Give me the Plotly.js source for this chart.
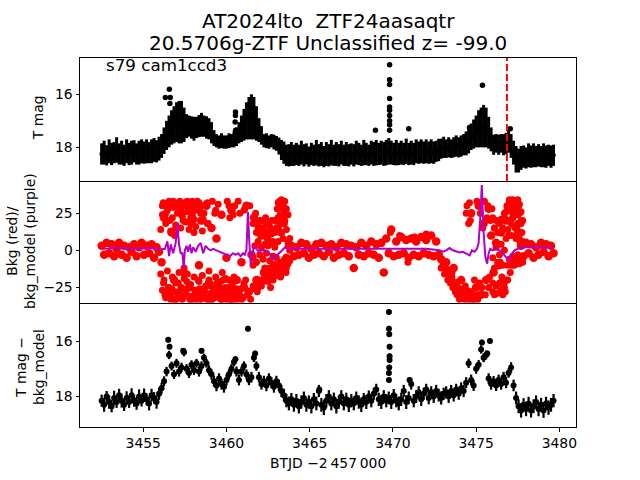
<!DOCTYPE html>
<html>
<head>
<meta charset="utf-8">
<script src="https://cdn.plot.ly/plotly-3.0.1.min.js"></script>
<style>html,body{margin:0;padding:0;background:#fff;}#chart{width:640px;height:480px;}</style>
</head>
<body>
<div id="chart"></div>
<script>
// ---- data ----
const btjd = [
3452.50,3452.65,3452.80,3452.95,3453.10,3453.25,3453.40,3453.55,3453.70,3453.85,
3454.00,3454.15,3454.30,3454.45,3454.60,3454.75,3454.90,3455.05,3455.20,3455.35,
3455.50,3455.65,3455.80,3455.95,3456.10,3456.25,3456.40,3456.55,3456.70,3456.85,
3457.00,3457.15,3457.30,3457.45,3457.60,3457.75,3457.90,3458.05,3458.20,3458.35,
3458.50,3458.65,3458.80,3458.95,3459.10,3459.25,3459.40,3459.55,3459.70,3459.85,
3460.00,3460.15,3460.30,3460.45,3460.60,3460.75,3460.90,3461.05,3461.20,3461.35,
3461.50,3461.65,3461.80,3461.95,3462.10,3462.25,3462.40,3462.55,3462.70,3462.85,
3463.00,3463.15,3463.30,3463.45,3463.60,3463.75,3463.90,3464.05,3464.20,3464.35,
3464.50,3464.65,3464.80,3464.95,3465.10,3465.25,3465.40,3465.55,3465.70,3465.85,
3466.00,3466.15,3466.30,3466.45,3466.60,3466.75,3466.90,3467.05,3467.20,3467.35,
3467.50,3467.65,3467.80,3467.95,3468.10,3468.25,3468.40,3468.55,3468.70,3468.85,
3469.00,3469.15,3469.30,3469.45,3469.60,3469.75,3469.90,3470.05,3470.20,3470.35,
3470.50,3470.65,3470.80,3470.95,3471.10,3471.25,3471.40,3471.55,3471.70,3471.85,
3472.00,3472.15,3472.30,3472.45,3472.60,3472.75,3472.90,3473.05,3473.20,3473.35,
3473.50,3473.65,3473.80,3473.95,3474.10,3474.25,3474.40,3474.55,3474.70,3474.85,
3475.00,3475.15,3475.30,3475.45,3475.60,3475.75,3475.90,3476.05,3476.20,3476.35,
3476.50,3476.65,3476.80,3476.95,3477.10,3477.25,3477.40,3477.55,3477.70,3477.85,
3478.00,3478.15,3478.30,3478.45,3478.60,3478.75,3478.90,3479.05,3479.20,3479.35,
3479.50,3479.65];

// panel 1: T mag and its error
const tmag = [
18.25,18.20,18.30,18.15,18.25,18.20,18.10,18.25,18.20,18.30,
18.15,18.25,18.20,18.15,18.25,18.20,18.15,18.20,18.15,18.20,
18.15,18.10,18.15,18.05,17.95,17.75,17.55,17.40,17.25,17.15,
17.05,17.05,17.05,17.15,17.20,17.20,17.25,17.30,17.25,17.20,
17.15,17.20,17.25,17.30,17.45,17.65,17.75,17.80,17.75,17.80,
17.80,17.75,17.75,17.70,17.60,17.45,17.30,17.15,17.00,16.90,
16.85,16.90,17.10,17.35,17.55,17.75,17.75,17.80,17.75,17.80,
17.85,17.95,18.10,18.20,18.30,18.30,18.25,18.30,18.25,18.30,
18.20,18.30,18.25,18.35,18.25,18.30,18.20,18.30,18.25,18.35,
18.25,18.30,18.20,18.30,18.25,18.30,18.20,18.30,18.25,18.30,
18.25,18.30,18.20,18.25,18.30,18.20,18.25,18.30,18.20,18.25,
18.20,18.25,18.20,18.25,18.20,18.15,18.20,18.25,18.20,18.25,
18.20,18.25,18.15,18.25,18.20,18.25,18.15,18.20,18.15,18.20,
18.15,18.20,18.15,18.20,18.15,18.10,18.05,18.00,18.05,18.00,
18.05,18.00,17.95,18.00,17.95,17.90,17.85,17.75,17.60,17.50,
17.40,17.30,17.25,17.20,17.25,17.45,17.70,17.90,17.85,17.90,
17.85,17.90,17.85,17.75,17.95,18.20,18.45,18.50,18.40,18.35,
18.40,18.30,18.35,18.30,18.35,18.30,18.35,18.30,18.35,18.30,
18.35,18.30];
const tmagErr = [
0.40,0.45,0.38,0.45,0.42,0.40,0.48,0.40,0.45,0.40,
0.45,0.42,0.45,0.42,0.40,0.45,0.45,0.42,0.45,0.40,
0.45,0.45,0.42,0.45,0.45,0.50,0.55,0.60,0.65,0.70,
0.75,0.80,0.80,0.65,0.45,0.40,0.42,0.45,0.40,0.42,
0.45,0.40,0.42,0.40,0.40,0.30,0.25,0.25,0.28,0.25,
0.25,0.28,0.25,0.30,0.35,0.40,0.50,0.60,0.70,0.80,
0.85,0.80,0.65,0.45,0.35,0.25,0.28,0.25,0.25,0.28,
0.28,0.32,0.38,0.42,0.40,0.42,0.45,0.40,0.42,0.40,
0.45,0.42,0.40,0.38,0.42,0.40,0.48,0.42,0.45,0.40,
0.45,0.42,0.48,0.40,0.45,0.42,0.45,0.40,0.45,0.42,
0.40,0.42,0.45,0.42,0.40,0.48,0.42,0.40,0.45,0.45,
0.48,0.42,0.45,0.45,0.48,0.50,0.45,0.42,0.48,0.42,
0.45,0.42,0.48,0.42,0.45,0.42,0.45,0.42,0.45,0.42,
0.45,0.42,0.45,0.42,0.40,0.42,0.38,0.40,0.35,0.38,
0.35,0.38,0.40,0.38,0.40,0.40,0.45,0.48,0.50,0.55,
0.60,0.70,0.75,0.80,0.75,0.60,0.45,0.38,0.35,0.38,
0.35,0.40,0.40,0.45,0.45,0.45,0.50,0.45,0.45,0.42,
0.40,0.45,0.42,0.45,0.40,0.42,0.40,0.45,0.42,0.40,
0.42,0.40];
const flareT1 = [3456.33,3456.57,3456.62,3456.60,3460.54,3460.54,3460.52,3460.55,
3469.80,3469.80,3469.80,3469.80,3469.80,3469.80,3469.80,3469.80,3469.80,3469.80,
3475.38,3468.95,3470.95,3474.60,3477.05];
const flareM1 = [16.12,15.81,16.12,16.35,16.67,16.80,17.04,17.36,
14.88,15.45,15.63,16.16,16.48,16.60,16.80,17.00,17.15,17.36,
15.66,17.36,17.30,17.25,17.30];

// panel 2: background (red) and background model (purple)
const bkg = [
3,-3,5,-2,4,-4,1,5,-3,3,
-5,2,-1,4,-4,2,5,-3,3,-2,
4,-5,2,-1,-8,22,-28,30,12,-20,
31,-30,25,-15,32,-25,18,-32,28,-10,
20,-28,30,-22,15,-30,8,-27,24,-31,
-5,-29,27,-32,-20,-30,-8,-25,30,-28,
-3,22,-20,15,10,-15,18,-18,12,-10,
20,32,-15,28,-5,3,3,-4,2,-3,
5,-2,4,-5,1,-3,4,-2,5,-4,
3,-1,4,-5,2,-3,5,-2,4,-4,
3,-12,2,-3,5,-4,3,-2,6,-3,
4,-5,5,-15,8,-2,14,-4,6,-3,
9,-2,7,-5,8,-3,6,-4,9,-2,
7,-3,10,-4,6,-3,-6,-10,-8,-14,
-18,-12,-22,-26,-20,-30,-32,-28,25,-32,
-25,30,-30,18,-20,28,10,-15,5,-10,
12,-22,20,28,32,25,15,8,3,-4,
5,-2,4,-5,2,-3,5,-1,4,-4,
3,-2];
const bkgXT = [
3456.20,3456.30,3456.45,3456.50,3456.60,3456.65,3456.80,3456.90,3456.95,3457.05,
3457.10,3457.20,3457.35,3457.40,3457.50,3457.55,3457.70,3457.80,3457.85,3458.00,
3458.10,3458.25,3458.30,3458.45,3458.55,3458.70,3458.75,3458.90,3459.00,3459.15,
3459.20,3459.35,3459.45,3459.60,3459.65,3459.80,3459.90,3460.05,3460.10,3460.20,
3460.25,3460.35,3460.50,3460.55,3460.65,3460.80,3460.85,3461.00,3461.10,3461.15,
3461.40,3461.45,3461.60,3461.75,3461.85,3462.00,3462.05,3462.20,3462.30,3462.35,
3462.50,3462.60,3462.65,3462.80,3462.90,3463.05,3463.10,3463.20,3463.25,3463.35,
3463.40,3463.50,3463.55,3472.90,3473.10,3473.30,3473.45,3473.60,3473.75,3473.85,
3474.00,3474.15,3474.30,3474.45,3474.50,3474.65,3474.75,3474.90,3475.05,3475.10,
3475.25,3475.35,3475.50,3475.55,3475.65,3475.80,3475.95,3476.00,3476.10,3476.40,
3476.55,3476.70,3476.75,3476.85,3477.00,3477.05,3477.15,3477.20,3477.30,3477.35,
3477.45,3477.50,3477.60,3477.65,3477.75,3469.85,3470.40,3471.30,3472.00,3470.90];
const bkgXV = [
32,-30,28,-25,20,-33,33,-28,15,30,
-22,33,-32,20,30,-30,27,-33,22,31,
-27,33,-20,25,-32,30,-24,18,-33,33,
-28,27,-30,-25,-33,-20,-30,33,-27,22,
-33,-24,30,-30,-33,25,-26,-32,28,-20,
30,-33,-10,25,-28,20,-22,15,-12,22,
-20,16,-25,12,-15,28,-10,33,-18,30,
22,-12,26,-12,-16,-20,-22,-25,-28,-30,
-33,-27,-33,30,-30,20,-33,-20,33,-33,
25,-25,33,-30,22,-18,28,-22,15,20,
-18,25,-28,30,33,-15,30,22,33,10,
28,18,25,5,12,12,10,9,11,-8];
const bkgYT = [
3456.15,3456.35,3456.75,3457.25,3457.65,3457.95,3458.15,3458.40,3458.60,3458.85,
3459.30,3459.50,3460.15,3460.40,3460.70,3461.05,3456.22,3456.42,3456.72,3457.00,
3457.30,3457.62,3457.92,3458.20,3458.38,3458.62,3458.82,3459.08,3459.28,3459.42,
3459.52,3459.72,3459.95,3460.00,3460.12,3460.30,3460.42,3460.60,3460.72,3460.92,
3461.05,3461.25,3456.90,3457.45,3458.05,3458.95,3459.75,3460.45,3461.78,3461.92,
3462.15,3462.45,3462.58,3462.72,3462.95,3463.12,3463.22,3463.28,3463.32,3463.42,
3463.48,3463.58,3473.20,3473.40,3473.55,3473.70,3473.90,3474.05,3474.20,3474.35,
3474.55,3474.70,3474.85,3475.00,3475.20,3474.40,3474.55,3474.60,3475.20,3475.40,
3475.70,3475.85,3475.75,3476.45,3476.60,3476.90,3477.05,3477.10,3477.25,3477.40,
3477.55,3477.70,3477.80,3476.95,3477.15,3476.65];
const bkgYV = [
30,25,29,27,33,24,30,28,21,32,
25,31,30,24,33,27,-22,-31,-26,-33,
-25,-21,-31,-33,-26,-30,-33,-24,-32,-22,
-28,-31,-25,-33,-20,-30,-33,-26,-29,-33,
-22,-30,10,-12,12,-14,-15,-18,-8,12,
-20,8,-12,20,5,15,24,-8,12,33,
18,-15,-12,-18,-15,-22,-25,-30,-32,-24,
-33,-28,-33,-30,-22,25,18,32,30,15,
30,20,-25,-8,15,-20,27,18,30,24,
30,20,4,10,-10,-25];
// dense parts of the background: 3456-3459 (top and bottom masses)
const bkgAT = [
3456.05,3456.05,3456.15,3456.15,3456.25,3456.25,3456.35,3456.35,3456.45,3456.45,
3456.55,3456.55,3456.65,3456.65,3456.75,3456.75,3456.85,3456.85,3456.95,3456.95,
3457.05,3457.05,3457.15,3457.15,3457.25,3457.25,3457.35,3457.35,3457.45,3457.45,
3457.55,3457.55,3457.65,3457.65,3457.75,3457.75,3457.85,3457.85,3457.95,3457.95,
3458.05,3458.05,3458.15,3458.15,3458.25,3458.25,3458.35,3458.35,3458.45,3458.45,
3458.55,3458.55,3458.65,3458.65,3458.75,3458.75,3458.85,3458.85];
const bkgAV = [
14,-16,24,-27,31,-20,18,-32,27,-14,
33,-25,13,-30,22,-18,29,-33,17,-22,
25,-29,32,-15,15,-26,23,-33,30,-19,
19,-28,26,-16,14,-31,28,-23,33,-33,
21,-18,16,-27,27,-30,32,-21,20,-33,
13,-17,25,-26,31,-32,18,-24];
// 3459-3461: bottom mass
const bkgBT = [
3458.95,3459.05,3459.15,3459.25,3459.35,3459.45,3459.55,3459.65,3459.75,3459.85,
3459.95,3460.05,3460.15,3460.25,3460.35,3460.45,3460.55,3460.65,3460.75,3460.85];
const bkgBV = [
-20,-29,-33,-24,-18,-31,-26,-21,-33,-28,
-19,-30,-25,-33,-22,-28,-32,-20,-27,-31];
// 3461.6-3463.8: oscillating mass
const bkgCT = [
3461.60,3461.60,3461.60,3461.70,3461.70,3461.70,3461.80,3461.80,3461.80,3461.90,
3461.90,3461.90,3462.00,3462.00,3462.00,3462.10,3462.10,3462.10,3462.20,3462.20,
3462.20,3462.30,3462.30,3462.30,3462.40,3462.40,3462.40,3462.50,3462.50,3462.50,
3462.60,3462.60,3462.60,3462.70,3462.70,3462.70,3462.80,3462.80,3462.80,3462.90,
3462.90,3462.90,3463.00,3463.00,3463.00,3463.10,3463.10,3463.10,3463.20,3463.20,
3463.20,3463.30,3463.30,3463.30,3463.40,3463.40,3463.40,3463.50,3463.50,3463.50,
3463.60,3463.60,3463.60,3463.70,3463.70,3463.70,3463.80,3463.80,3463.80];
const bkgCV = [
18,-5,-24,21,3,-26,12,-8,-22,19,
6,-25,15,-3,-20,20,2,-24,13,-6,
-21,10,4,-17,12,-2,-19,8,3,-21,
13,-7,-15,11,5,-18,6,-4,-20,12,
2,-14,15,-5,-17,22,6,-12,30,12,
-8,34,18,-13,31,8,-10,33,20,-6,
28,14,-12,24,5,-9,8,0,-7];
// 3476.0-3477.8: mass before the drop
const bkgDT = [
3476.00,3476.00,3476.00,3476.10,3476.10,3476.10,3476.20,3476.20,3476.20,3476.30,
3476.30,3476.30,3476.40,3476.40,3476.40,3476.50,3476.50,3476.50,3476.60,3476.60,
3476.60,3476.70,3476.70,3476.70,3476.80,3476.80,3476.80,3476.90,3476.90,3476.90,
3477.00,3477.00,3477.00,3477.10,3477.10,3477.10,3477.20,3477.20,3477.20,3477.30,
3477.30,3477.30,3477.40,3477.40,3477.40,3477.50,3477.50,3477.50,3477.60,3477.60,
3477.60,3477.70,3477.70,3477.70,3477.80,3477.80,3477.80];
const bkgDV = [
22,-5,-28,15,-12,-30,20,2,-24,12,
-8,-29,18,-3,-22,21,4,-27,14,-10,
-30,22,0,-25,26,8,-20,30,14,-10,
34,20,-6,32,10,-9,34,22,-4,33,
16,-10,30,8,-7,34,24,-3,31,12,
-9,26,18,-5,20,6,-8];
const modelT = [
3452.60,3453.50,3454.50,3455.50,3456.00,3456.30,3456.45,3456.55,3456.65,3456.80,
3456.95,3457.05,3457.15,3457.25,3457.35,3457.43,3457.50,3457.60,3457.70,3457.80,
3457.90,3458.00,3458.15,3458.30,3458.45,3458.60,3458.75,3458.90,3459.05,3459.20,
3459.40,3459.60,3459.80,3460.00,3460.20,3460.40,3460.55,3460.70,3460.85,3461.00,
3461.10,3461.20,3461.29,3461.36,3461.46,3461.56,3461.67,3461.80,3461.95,3462.10,
3462.30,3462.50,3462.65,3462.78,3462.95,3463.15,3463.35,3463.53,3463.70,3464.00,
3465.00,3466.00,3467.00,3468.00,3469.00,3470.00,3471.00,3472.00,3472.80,3473.00,
3473.20,3473.40,3473.60,3473.80,3474.00,3474.20,3474.40,3474.61,3474.75,3474.90,
3475.05,3475.15,3475.25,3475.34,3475.45,3475.55,3475.66,3475.75,3475.85,3476.00,
3476.20,3476.40,3476.60,3476.80,3476.95,3477.10,3477.30,3477.50,3478.00,3478.50,
3479.00,3479.60];
const modelV = [
1,1.5,1,1.5,0.5,1,6,-4,4,-2,
5,18,4,-2,-2,-12,0,3,-1,4,
-2,2,-1,3,5,-2,3,1,0,1,
0,-1,-2,-3,-4,-2,-3,-2,-4,-2,
-3,0,26,8,-10,-2,3,1,-1,0,
0,-1,-3,-6,-4,-2,0,2,1,1,
1,1.5,1,1,1.5,1,1.5,1,0,-1,
0,1.5,0,-1,-1.5,-1,-2,-3.4,0,-1,
1,5,22,44,12,-4,-9,-2,1,0,
1,0,-2,-5,-6.8,-3,0,1,2,2,
2,1.5];

// panel 3: T mag minus background model
const tmagSub = [
18.15,18.30,18.00,18.20,18.35,18.05,18.20,17.95,18.15,18.30,
18.05,18.20,17.95,18.15,18.25,18.00,18.15,17.95,18.10,18.25,
17.95,18.05,18.20,17.90,17.70,17.45,17.10,16.50,16.90,17.20,
16.80,17.10,16.95,16.40,17.00,17.15,16.85,17.05,16.80,17.10,
16.90,16.60,16.80,17.05,17.20,17.45,17.60,17.35,17.55,17.65,
17.40,17.20,17.00,16.75,17.10,17.40,17.10,16.90,17.20,17.40,
17.30,16.60,16.90,17.30,17.55,17.45,17.60,17.35,17.50,17.65,
17.45,17.60,17.80,17.95,18.15,18.25,18.10,18.30,18.15,18.35,
18.20,18.05,18.30,18.20,18.35,18.10,18.25,17.80,18.30,18.40,
18.15,18.00,18.25,18.10,18.35,18.20,18.00,18.25,18.10,18.30,
18.15,18.25,18.05,18.20,18.30,18.10,18.20,18.00,18.15,17.90,
17.75,18.10,18.20,18.00,18.15,18.05,18.20,17.95,18.15,18.25,
18.10,17.80,18.20,18.05,17.55,18.15,18.00,17.85,18.10,17.90,
17.75,18.05,17.85,18.00,17.80,17.95,18.05,17.90,17.85,18.00,
17.80,17.95,17.75,17.90,17.70,17.80,17.50,16.80,17.40,17.60,
17.00,16.85,16.30,16.60,16.50,17.35,17.55,17.45,17.60,17.40,
17.55,17.30,17.50,17.15,16.95,17.60,18.05,18.35,18.50,18.30,
18.45,18.25,18.50,18.35,18.20,18.45,18.30,18.50,18.25,18.40,
18.30,18.15];
const tmagSubErr = [
0.22,0.25,0.20,0.24,0.22,0.26,0.21,0.23,0.25,0.22,
0.24,0.21,0.25,0.22,0.23,0.26,0.21,0.24,0.22,0.25,
0.23,0.21,0.24,0.22,0.20,0.18,0.17,0.15,0.16,0.17,
0.16,0.18,0.17,0.15,0.17,0.18,0.16,0.17,0.16,0.18,
0.17,0.15,0.16,0.18,0.19,0.20,0.21,0.19,0.20,0.21,
0.20,0.18,0.17,0.16,0.18,0.20,0.18,0.17,0.18,0.19,
0.19,0.16,0.17,0.19,0.20,0.20,0.21,0.19,0.20,0.21,
0.20,0.21,0.22,0.23,0.24,0.25,0.23,0.25,0.24,0.26,
0.24,0.23,0.25,0.24,0.26,0.23,0.25,0.22,0.25,0.27,
0.24,0.23,0.25,0.24,0.26,0.24,0.23,0.25,0.24,0.26,
0.24,0.25,0.23,0.24,0.26,0.23,0.25,0.22,0.24,0.22,
0.21,0.24,0.25,0.23,0.24,0.23,0.25,0.22,0.24,0.25,
0.24,0.22,0.25,0.23,0.20,0.24,0.23,0.22,0.24,0.22,
0.21,0.23,0.22,0.23,0.22,0.23,0.24,0.22,0.22,0.23,
0.22,0.23,0.21,0.22,0.21,0.22,0.20,0.17,0.19,0.20,
0.18,0.17,0.15,0.16,0.16,0.19,0.20,0.19,0.20,0.19,
0.20,0.19,0.20,0.17,0.19,0.21,0.23,0.25,0.26,0.24,
0.26,0.24,0.26,0.25,0.24,0.26,0.25,0.27,0.24,0.26,
0.25,0.24];
const flareT3 = [3456.50,3456.58,3460.54,3461.29,3461.72,
3469.76,3469.76,3469.78,3469.80,3469.80,3469.80,3469.78,3469.76,3469.76,
3475.35,3475.67,3475.83,3457.40,3458.50,3465.58,3471.00];
const flareM3 = [15.95,16.20,16.65,15.55,16.45,
14.95,15.55,15.75,16.20,16.55,16.68,16.95,17.15,17.40,
16.05,16.45,16.00,16.35,16.35,17.75,17.40];

const xTicks = [3455, 3460, 3465, 3470, 3475, 3480];
const magTicks = [16, 18];
const bkgTicks = [-25, 0, 25];
const markerTime = 3476.85;   // red dashed line
const titleLine1 = 'AT2024lto\u00a0\u00a0ZTF24aasaqtr';
const titleLine2 = '20.5706g-ZTF Unclassified z= -99.0';
const sectorLabel = 's79 cam1ccd3';

// ---- plotting ----
const FONT = 'DejaVu Sans, Liberation Sans, sans-serif';
const RED = '#ff0000';
const extraT = bkgXT.concat(bkgYT, bkgAT, bkgBT, bkgCT, bkgDT);
const extraV = bkgXV.concat(bkgYV, bkgAV, bkgBV, bkgCV, bkgDV);
const traces = [
  {x: btjd, y: tmag, xaxis: 'x', yaxis: 'y', type: 'scatter', mode: 'markers',
   marker: {color: 'black', size: 4.5},
   error_y: {type: 'data', array: tmagErr, visible: true, color: 'black', thickness: 3, width: 0}},
  {x: flareT1, y: flareM1, xaxis: 'x', yaxis: 'y', type: 'scatter', mode: 'markers',
   marker: {color: 'black', size: 5.5}},
  {x: btjd, y: bkg, xaxis: 'x2', yaxis: 'y2', type: 'scatter', mode: 'markers',
   marker: {color: RED, size: 8.5}},
  {x: extraT, y: extraV, xaxis: 'x2', yaxis: 'y2', type: 'scatter', mode: 'markers',
   marker: {color: RED, size: 7}},
  {x: modelT, y: modelV, xaxis: 'x2', yaxis: 'y2', type: 'scatter', mode: 'lines',
   line: {color: '#b000c8', width: 2}},
  {x: btjd, y: tmagSub, xaxis: 'x3', yaxis: 'y3', type: 'scatter', mode: 'markers',
   marker: {color: 'black', size: 6},
   error_y: {type: 'data', array: tmagSubErr, visible: true, color: 'black', thickness: 2.2, width: 0}},
  {x: flareT3, y: flareM3, xaxis: 'x3', yaxis: 'y3', type: 'scatter', mode: 'markers',
   marker: {color: 'black', size: 6},
   error_y: {type: 'constant', value: 0.1, visible: true, color: 'black', thickness: 2, width: 0}}
];

const xCommon = {range: [3451.2, 3481.0], showgrid: false, zeroline: false,
  showline: true, mirror: true, linecolor: 'black', linewidth: 1, tickvals: xTicks,
  tickfont: {family: FONT, size: 13.9, color: 'black'}};
const yCommon = {showgrid: false, zeroline: false, showline: true, mirror: true,
  linecolor: 'black', linewidth: 1, ticks: 'outside', ticklen: 3.5, tickwidth: 1,
  tickcolor: 'black', tickfont: {family: FONT, size: 13.9, color: 'black'}};

const layout = {
  width: 640, height: 480,
  margin: {l: 80, r: 64, t: 58, b: 53, pad: 0},
  paper_bgcolor: 'white', plot_bgcolor: 'white',
  showlegend: false,
  font: {family: FONT, color: 'black'},
  xaxis: Object.assign({}, xCommon, {anchor: 'y', showticklabels: false, ticks: ''}),
  xaxis2: Object.assign({}, xCommon, {anchor: 'y2', showticklabels: false, ticks: '', showline: false}),
  xaxis3: Object.assign({}, xCommon, {anchor: 'y3', ticks: 'outside', ticklen: 3.5,
     tickwidth: 1, tickcolor: 'black'}),
  yaxis: Object.assign({}, yCommon, {domain: [2/3, 1], anchor: 'x', range: [19.27, 14.63], tickvals: magTicks}),
  yaxis2: Object.assign({}, yCommon, {domain: [1/3, 2/3], anchor: 'x2', range: [-36.2, 46.7], tickvals: bkgTicks}),
  yaxis3: Object.assign({}, yCommon, {domain: [0, 1/3], anchor: 'x3', range: [19.1, 14.66], tickvals: magTicks}),
  shapes: [
    {type: 'line', xref: 'x', yref: 'y domain', x0: markerTime, x1: markerTime, y0: 0, y1: 1,
     line: {color: RED, width: 2, dash: '7px,3px'}}
  ],
  annotations: [
    {text: titleLine1, xref: 'paper', yref: 'paper', x: 0.5, y: 1, xanchor: 'center', yanchor: 'middle',
     yshift: 37, showarrow: false, font: {family: FONT, size: 20, color: 'black'}},
    {text: titleLine2, xref: 'paper', yref: 'paper', x: 0.5, y: 1, xanchor: 'center', yanchor: 'middle',
     yshift: 15.5, showarrow: false, font: {family: FONT, size: 20, color: 'black'}},
    {text: sectorLabel, xref: 'paper', yref: 'paper', x: 0, y: 1, xanchor: 'left', yanchor: 'middle',
     xshift: 24, yshift: -7, showarrow: false, font: {family: FONT, size: 16.7, color: 'black'}},
    {text: 'T mag', xref: 'paper', yref: 'paper', x: 0, y: 0.837, xanchor: 'center', yanchor: 'middle',
     xshift: -42, textangle: -90, showarrow: false, font: {family: FONT, size: 13.9, color: 'black'}},
    {text: 'Bkg (red)/<br>bkg_model (purple)', xref: 'paper', yref: 'paper', x: 0, y: 0.504,
     xanchor: 'center', yanchor: 'middle', xshift: -59, textangle: -90, showarrow: false,
     font: {family: FONT, size: 13.9, color: 'black'}},
    {text: 'T mag \u2212<br>bkg_model', xref: 'paper', yref: 'paper', x: 0, y: 0.1626,
     xanchor: 'center', yanchor: 'middle', xshift: -50, textangle: -90, showarrow: false,
     font: {family: FONT, size: 13.9, color: 'black'}},
    {text: 'BTJD \u22122\u2009457\u2009000', xref: 'paper', yref: 'paper', x: 0.5, y: 0,
     xanchor: 'center', yanchor: 'middle', yshift: -36, showarrow: false,
     font: {family: FONT, size: 13.9, color: 'black'}}
  ]
};

Plotly.newPlot('chart', traces, layout, {staticPlot: true, displayModeBar: false});
</script>
</body>
</html>
